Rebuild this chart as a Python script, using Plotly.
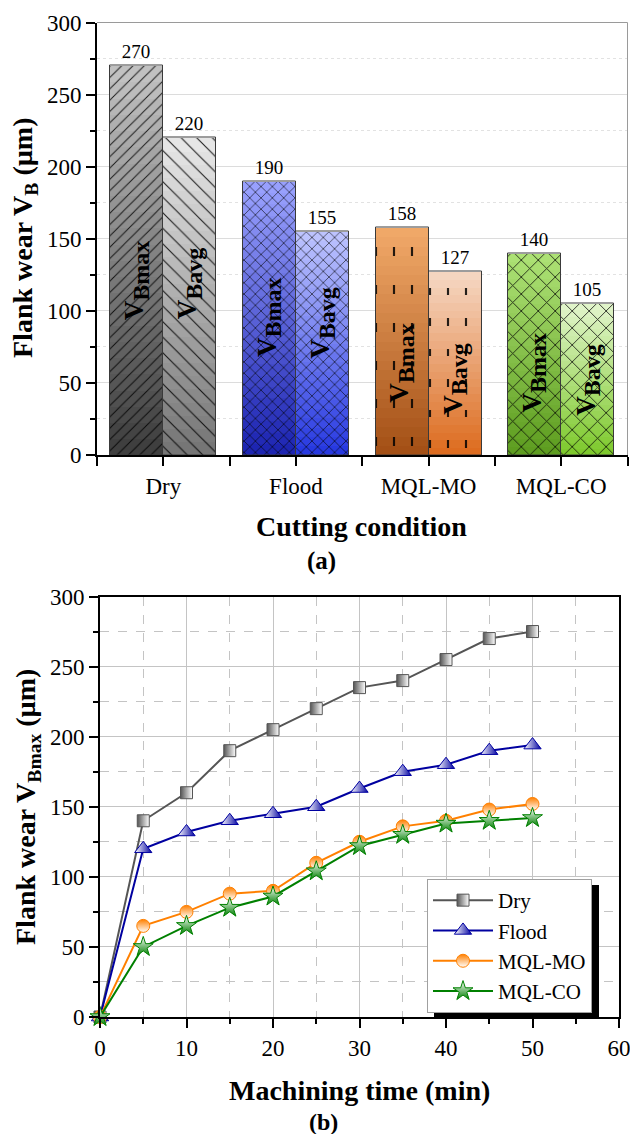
import plotly.graph_objects as go
import numpy as np

# ---------------- data ----------------
categories = ["Dry", "Flood", "MQL-MO", "MQL-CO"]
vb_max = [270, 190, 158, 140]
vb_avg = [220, 155, 127, 105]
# vertical centre of the rotated in-bar labels (µm)
label_y_max = [121, 96, 64, 57]
label_y_avg = [119, 92, 53, 52]

time_min = [0, 5, 10, 15, 20, 25, 30, 35, 40, 45, 50]
dry = [0, 140, 160, 190, 205, 220, 235, 240, 255, 270, 275]
flood = [0, 120, 132, 140, 145, 150, 163, 175, 180, 190, 194]
mql_mo = [0, 65, 75, 88, 90, 110, 125, 136, 140, 148, 152]
mql_co = [0, 50, 65, 78, 86, 104, 122, 130, 138, 140, 142]

# ---------------- style ----------------
FONT = "Liberation Serif"
W, H = 630, 1134
max_top = ["#c4c4c4", "#9ba3ff", "#f2aa6a", "#aee276"]
max_bot = ["#3c3c3c", "#1a22b0", "#a24e14", "#5c9c1e"]
avg_top = ["#e8e8e8", "#c0c6ff", "#f6d8c4", "#e2f5cc"]
avg_bot = ["#747474", "#2436e0", "#dc6a1c", "#7cc82a"]
max_shape = ["/", "x", "|", "x"]
avg_shape = ["\\", "x", "|", "x"]
max_psize = [8, 8, 18, 12]
avg_psize = [11, 8, 18, 12]
max_solid = [0.12, 0.16, 0.12, 0.14]
avg_solid = [0.1, 0.16, 0.12, 0.14]


def mix(c1, c2, t):
    a = [int(c1[i:i + 2], 16) for i in (1, 3, 5)]
    b = [int(c2[i:i + 2], 16) for i in (1, 3, 5)]
    return "rgb(%d,%d,%d)" % tuple(round(a[j] + (b[j] - a[j]) * t) for j in range(3))


def px(x):
    return x / W


def py(y):
    return 1 - y / H


fig = go.Figure()

idx = np.arange(len(categories))
BW = 0.4
NSEG = 24


def add_series(vals, offset, top, bot, shapes, psizes, solid):
    for i, v in enumerate(vals):
        xpos = idx[i] + offset
        for k in range(NSEG):
            t = (k + 0.5) / NSEG
            col = mix(bot[i], top[i], t)
            shp = shapes[i] if (shapes[i] != "|" or k % 4 == 1) else ""
            fig.add_trace(go.Bar(
                x=[xpos], y=[v / NSEG], base=[v * k / NSEG],
                width=BW, xaxis="x", yaxis="y",
                marker=dict(color=col, line=dict(width=0),
                            pattern=dict(shape=shp, fillmode="overlay",
                                         fgcolor="#000000", fgopacity=0.85,
                                         size=psizes[i], solidity=solid[i])),
                showlegend=False, hoverinfo="skip"))
    fig.add_trace(go.Bar(
        x=idx + offset, y=vals, width=BW, xaxis="x", yaxis="y",
        marker=dict(color="rgba(0,0,0,0)", line=dict(color="#3a3a3a", width=1)),
        text=[str(v) for v in vals], textposition="outside",
        textfont=dict(family=FONT, size=19, color="black"),
        cliponaxis=False, showlegend=False, hoverinfo="skip"))


add_series(vb_max, -BW / 2, max_top, max_bot, max_shape, max_psize, max_solid)
add_series(vb_avg, BW / 2, avg_top, avg_bot, avg_shape, avg_psize, avg_solid)

# in-bar labels
for i in range(len(categories)):
    for off, ly, sub in ((-BW / 2, label_y_max[i], "Bmax"), (BW / 2, label_y_avg[i], "Bavg")):
        fig.add_annotation(
            x=idx[i] + off, y=ly, xref="x", yref="y", textangle=-90,
            text="<b>V<sub><span style='font-size:24px'>%s</span></sub></b>" % sub,
            showarrow=False, font=dict(family=FONT, size=27, color="black"),
            xanchor="center", yanchor="middle")

# ---------------- line chart ----------------
line_specs = [
    ("Dry", dry, "#555555", "square", 12, "horizontal", "#555555", "white"),
    ("Flood", flood, "#0000a0", "triangle-up", 15, "horizontal", "white", "#0000a0"),
    ("MQL-MO", mql_mo, "#ff8000", "circle", 13, "vertical", "#ff8000", "white"),
    ("MQL-CO", mql_co, "#008000", "star", 15, "vertical", "white", "#008000"),
]
for name, ys, col, sym, sz, gtype, c0, c1 in line_specs:
    fig.add_trace(go.Scatter(
        x=time_min, y=ys, name=name, mode="lines+markers",
        xaxis="x2", yaxis="y2", cliponaxis=False,
        line=dict(color=col, width=2),
        marker=dict(symbol=sym, size=sz, color=c0,
                    gradient=dict(type=gtype, color=c1),
                    line=dict(color=col, width=1))))

tickfont = dict(family=FONT, size=23, color="black")
common = dict(automargin=False, ticklabeloverflow="allow", tickfont=tickfont,
              ticks="outside", ticklen=9, tickwidth=1.5, tickcolor="black",
              zeroline=False, showline=True, linecolor="black", linewidth=2)

fig.update_layout(
    width=W, height=H, margin=dict(l=0, r=0, t=0, b=0, autoexpand=False),
    paper_bgcolor="white", plot_bgcolor="white",
    barmode="overlay", bargap=0,
    font=dict(family=FONT, color="black"),
    xaxis=dict(domain=[px(97), px(627.5)], anchor="y", range=[-0.5, 3.5],
               tickmode="array", tickvals=list(idx), ticktext=categories,
               minor=dict(tickvals=[-0.5, 0.5, 1.5, 2.5, 3.5], ticks="outside",
                          ticklen=9, tickwidth=1.5, tickcolor="black"),
               showgrid=False, **common),
    yaxis=dict(domain=[py(455), py(22.5)], anchor="x", range=[0, 300], dtick=50,
               minor=dict(dtick=25, ticks="outside", ticklen=5, tickwidth=1.5,
                          tickcolor="black", showgrid=True, griddash="dot",
                          gridcolor="#e2e2e2"),
               showgrid=True, gridcolor="#dcdcdc", **common),
    xaxis2=dict(domain=[px(100), px(619)], anchor="y2", range=[0, 60], dtick=10,
                minor=dict(dtick=5, ticks="outside", ticklen=5, tickwidth=1.5,
                           tickcolor="black", showgrid=True, griddash="dash",
                           gridcolor="#c4c4c4"),
                showgrid=True, gridcolor="#c4c4c4", mirror=True, **common),
    yaxis2=dict(domain=[py(1017), py(596.5)], anchor="x2", range=[0, 300], dtick=50,
                minor=dict(dtick=25, ticks="outside", ticklen=5, tickwidth=1.5,
                           tickcolor="black", showgrid=True, griddash="dash",
                           gridcolor="#c4c4c4"),
                showgrid=True, gridcolor="#c4c4c4", mirror=True, **common),
    legend=dict(x=px(427), y=py(879), xanchor="left", yanchor="top",
                bgcolor="white", bordercolor="#a0a0a0", borderwidth=1,
                font=dict(family=FONT, size=21, color="black"),
                itemwidth=60, tracegroupgap=0),
    showlegend=True,
)

# gray frame (top / right) of the bar chart
fig.add_shape(type="line", xref="x domain", yref="y domain", x0=0, x1=1, y0=1, y1=1,
              line=dict(color="#9a9a9a", width=1))
fig.add_shape(type="line", xref="x domain", yref="y domain", x0=1, x1=1, y0=0, y1=1,
              line=dict(color="#9a9a9a", width=1))
# legend shadow
fig.add_shape(type="rect", xref="paper", yref="paper",
              x0=px(434), x1=px(599), y0=py(1018), y1=py(885),
              fillcolor="black", line=dict(width=0), layer="above")

title_font = dict(family=FONT, size=28, color="black")
fig.add_annotation(x=px(24), y=py(238), xref="paper", yref="paper", textangle=-90,
                   text="<b>Flank wear V<sub>B</sub> (µm)</b>", showarrow=False,
                   font=title_font, xanchor="center", yanchor="middle")
fig.add_annotation(x=px(361), y=py(526), xref="paper", yref="paper",
                   text="<b>Cutting condition</b>", showarrow=False,
                   font=title_font, xanchor="center", yanchor="middle")
fig.add_annotation(x=px(321), y=py(561), xref="paper", yref="paper",
                   text="<b>(a)</b>", showarrow=False,
                   font=dict(family=FONT, size=25, color="black"),
                   xanchor="center", yanchor="middle")
fig.add_annotation(x=px(27), y=py(807), xref="paper", yref="paper", textangle=-90,
                   text="<b>Flank wear V<sub>Bmax</sub> (µm)</b>", showarrow=False,
                   font=title_font, xanchor="center", yanchor="middle")
fig.add_annotation(x=px(359), y=py(1090), xref="paper", yref="paper",
                   text="<b>Machining time (min)</b>", showarrow=False,
                   font=title_font, xanchor="center", yanchor="middle")
fig.add_annotation(x=px(323), y=py(1122), xref="paper", yref="paper",
                   text="<b>(b)</b>", showarrow=False,
                   font=dict(family=FONT, size=24, color="black"),
                   xanchor="center", yanchor="middle")

fig.write_html("out.html", config={"displayModeBar": False},
               post_script="document.body.style.margin='0';"
                           "document.body.style.overflow='hidden';")
